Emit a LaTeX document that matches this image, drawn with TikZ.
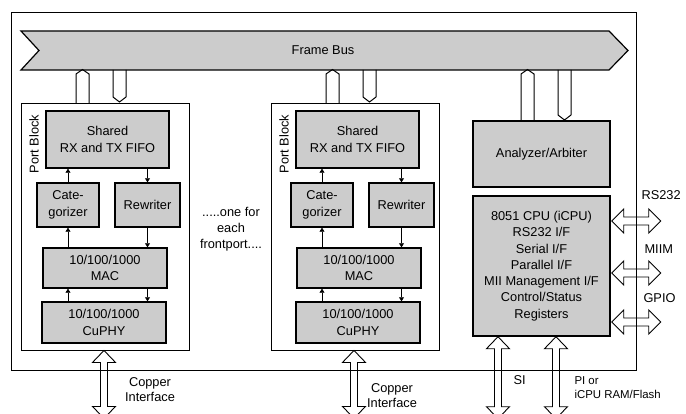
\documentclass[tikz,border=0pt]{standalone}
\usepackage{fontspec}
\setmainfont{Liberation Sans}
\usetikzlibrary{arrows.meta}

\tikzset{
  unit/.style={draw, line width=1.4pt, fill=black!20, align=center, inner sep=0pt},
  portblock/.style={draw, line width=0.9pt, inner sep=0pt},
  flow/.style={-{Triangle[length=4pt,width=5pt]}, line width=0.7pt},
  link/.style={line width=1pt},
  iface/.style={line width=0.9pt, line join=miter},
}

% hollow double arrows: tip, tip-to-tip length
\newcommand{\vdarrow}[2]{%
  \draw[iface] #1 -- ++(11.5,12) -- ++(-8,0) -- ++(0,#2-24) -- ++(8,0) -- ++(-11.5,12)
    -- ++(-11.5,-12) -- ++(8,0) -- ++(0,24-#2) -- ++(-8,0) -- cycle;}
\newcommand{\hdarrow}[2]{%
  \draw[iface] #1 -- ++(12,12) -- ++(0,-8) -- ++(#2-24,0) -- ++(0,8) -- ++(12,-12)
    -- ++(-12,-12) -- ++(0,8) -- ++(24-#2,0) -- ++(0,-8) -- cycle;}

\begin{document}
\begin{tikzpicture}[x=1pt, y=-1pt, every node/.style={font=\fontsize{12.8}{16.3}\selectfont}]
  \useasboundingbox (0,0) rectangle (686,414);

  % Outer frame
  \draw[line width=0.8pt] (11,12) rectangle (636,370);

  % Frame bus
  \draw[line width=1.2pt, fill=black!20] (21,31) -- (609,31) -- (628,50.5) -- (609,70)
    -- (21,70) -- (39,50.5) -- cycle;
  \node (bus) at (323,50.5) {Frame Bus};

  % Port blocks
  \foreach \i/\dx/\ex in {1/0/0, 2/250/254} {
    \node[portblock, minimum width=168, minimum height=247] (pb\i) at (105+\dx,226.5) {};
    \node[rotate=90] (pbl\i) at (34+\dx,144) {Port Block};
    \node[unit, minimum width=123, minimum height=57] (fifo\i) at (107.5+\dx,139.5) {Shared\\RX and TX FIFO};
    \node[unit, minimum width=62, minimum height=44] (cat\i) at (68+\ex,205) {Cate-\\gorizer};
    \node[unit, minimum width=65, minimum height=44] (rew\i) at (147.5+\ex,205) {Rewriter};
    \node[unit, minimum width=124, minimum height=40] (mac\i) at (105+\ex,268) {10/100/1000\\MAC};
    \node[unit, minimum width=124, minimum height=41] (phy\i) at (104+\ex,322.5) {10/100/1000\\CuPHY};

    \draw[flow] (cat\i) -- (fifo\i.south -| cat\i);
    \draw[flow] (fifo\i.south -| rew\i) -- (rew\i);
    \draw[flow] (mac\i.north -| cat\i) -- (cat\i);
    \draw[flow] (rew\i) -- (mac\i.north -| rew\i);
    \draw[flow] (phy\i.north -| cat\i) -- (mac\i.south -| cat\i);
    \draw[flow] (mac\i.south -| rew\i) -- (phy\i.north -| rew\i);

    % bus links
    \draw[link] (76+\dx,103) -- (76+\dx,74) -- (82.5+\dx,69.5) -- (89+\dx,74) -- (89+\dx,103);
    \draw[link] (113+\dx,70) -- (113+\dx,97) -- (119.5+\dx,102) -- (126+\dx,97) -- (126+\dx,70);

    % copper interface
    \vdarrow{([xshift=-1pt]pb\i.south)}{68}
  }
  \node[align=center] (note) at (231,229) {.....one for\\each\\frontport....};
  \node[align=center, font=\fontsize{12.8}{15}\selectfont] (cu1) at (150,389.5) {Copper\\Interface};
  \node[align=center, font=\fontsize{12.8}{15}\selectfont] (cu2) at (392,395.5) {Copper\\Interface};

  % Analyzer and CPU
  \node[unit, minimum width=137, minimum height=66] (arb) at (541.5,154) {Analyzer/Arbiter};
  \node[unit, minimum width=137, minimum height=140] (cpu) at (541.5,266)
    {8051 CPU (iCPU)\\RS232 I/F\\Serial I/F\\Parallel I/F\\MII Management I/F\\Control/Status\\Registers};
  \draw[link] (521,121) -- (521,74) -- (527.5,69.5) -- (534,74) -- (534,121);
  \draw[link] (558,70) -- (558,115) -- (564.5,120) -- (571,115) -- (571,70);

  % CPU interfaces
  \vdarrow{([xshift=-43.5pt]cpu.south)}{82}
  \vdarrow{([xshift=14.5pt]cpu.south)}{82}
  \hdarrow{([xshift=1pt, yshift=45pt]cpu.east)}{49}
  \hdarrow{([xshift=1pt, yshift=-7pt]cpu.east)}{49}
  \hdarrow{([xshift=1pt, yshift=-56pt]cpu.east)}{49}
  \node[anchor=west] (si) at (510,380) {SI};
  \node[anchor=west, align=left, font=\fontsize{11.4}{14}\selectfont] (pi) at (571,387.5) {PI or\\iCPU RAM/Flash};
  \node[anchor=west] (rs) at (638,195) {RS232};
  \node[anchor=west] (miim) at (641,249) {MIIM};
  \node[anchor=west] (gpio) at (640,298) {GPIO};
\end{tikzpicture}
\end{document}
